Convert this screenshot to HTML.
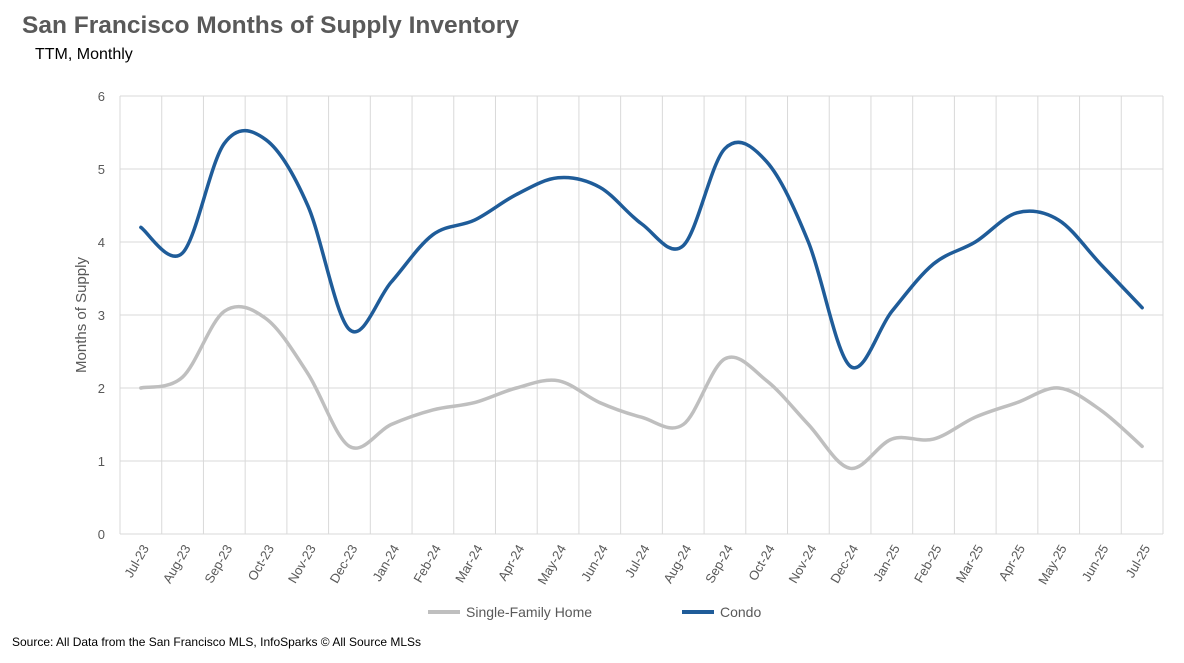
<!DOCTYPE html>
<html><head><meta charset="utf-8"><style>
body{margin:0;background:#fff;font-family:"Liberation Sans",sans-serif;}
svg text{font-family:"Liberation Sans",sans-serif;}
</style></head><body>
<svg width="1184" height="658">
<text x="22" y="33" font-size="24.5" font-weight="bold" fill="#595959">San Francisco Months of Supply Inventory</text>
<text x="35" y="59" font-size="16" fill="#000">TTM, Monthly</text>
<g id="grid"></g>
<g id="axes"></g>
<text transform="translate(86,315) rotate(-90)" text-anchor="middle" font-size="15" fill="#595959">Months of Supply</text>
<g id="series"></g>
<g>
<line x1="428" y1="612" x2="460" y2="612" stroke="#bfbfbf" stroke-width="4"/>
<text x="466" y="617" font-size="14" fill="#595959">Single-Family Home</text>
<line x1="682" y1="612" x2="714" y2="612" stroke="#1f5c99" stroke-width="4"/>
<text x="720" y="617" font-size="14" fill="#595959">Condo</text>
</g>
<text x="12" y="646" font-size="12" fill="#000">Source: All Data from the San Francisco MLS, InfoSparks © All Source MLSs</text>
</svg>
<script>
const categories=["Jul-23","Aug-23","Sep-23","Oct-23","Nov-23","Dec-23","Jan-24","Feb-24","Mar-24","Apr-24","May-24","Jun-24","Jul-24","Aug-24","Sep-24","Oct-24","Nov-24","Dec-24","Jan-25","Feb-25","Mar-25","Apr-25","May-25","Jun-25","Jul-25"];
const condoValues=[4.2,3.85,5.35,5.4,4.5,2.8,3.45,4.1,4.3,4.65,4.88,4.75,4.25,3.95,5.28,5.1,4.0,2.3,3.05,3.7,4.0,4.4,4.3,3.7,3.1];
const sfhValues=[2.0,2.15,3.05,2.95,2.2,1.2,1.5,1.7,1.8,2.0,2.1,1.8,1.6,1.5,2.4,2.1,1.5,0.9,1.3,1.3,1.6,1.8,2.0,1.7,1.2];
const yTicks=[0,1,2,3,4,5,6];
const NS="http://www.w3.org/2000/svg";
const L=120,R=1163,T=96,B=534,yMax=6;
const step=(R-L)/categories.length;
const xS=i=>L+step*(i+0.5);
const yS=v=>B-(v/yMax)*(B-T);
const grid=document.getElementById('grid'),axes=document.getElementById('axes'),series=document.getElementById('series');
function mk(tag,attrs,parent){const e=document.createElementNS(NS,tag);for(const k in attrs)e.setAttribute(k,attrs[k]);parent.appendChild(e);return e;}
yTicks.forEach(t=>{
 const l=mk('line',{x1:L,x2:R,y1:yS(t),y2:yS(t),stroke:'#d9d9d9','stroke-width':1},grid);
 
 
 const tx=mk('text',{x:L-15,y:yS(t)+5,'text-anchor':'end','font-size':13,fill:'#595959'},axes);
 tx.textContent=t;
 
 
});
for(let i=0;i<=categories.length;i++){
 const l=mk('line',{x1:L+step*i,x2:L+step*i,y1:T,y2:B,stroke:'#d9d9d9','stroke-width':1},grid);
 
 
}
categories.forEach((c,i)=>{
 const x=xS(i),y=B+12;
 const tx=mk('text',{x:x+5,y:y+4,'text-anchor':'end','font-size':13,fill:'#595959',transform:`rotate(-60 ${x+5} ${y})`},axes);
 tx.textContent=c;
 
 
});
function smooth(vals){
 const p=vals.map((v,i)=>[xS(i),yS(v)]);
 let d=`M${p[0][0]},${p[0][1]}`;
 for(let i=0;i<p.length-1;i++){
  const p0=p[i-1]||p[i],p1=p[i],p2=p[i+1],p3=p[i+2]||p2;
  const c1=[p1[0]+(p2[0]-p0[0])/6,p1[1]+(p2[1]-p0[1])/6];
  const c2=[p2[0]-(p3[0]-p1[0])/6,p2[1]-(p3[1]-p1[1])/6];
  d+=` C${c1[0]},${c1[1]} ${c2[0]},${c2[1]} ${p2[0]},${p2[1]}`;
 }
 return d;
}
const s1=mk('path',{d:smooth(sfhValues),fill:'none',stroke:'#bfbfbf','stroke-width':3.5,'stroke-linecap':'round'},series);


const s2=mk('path',{d:smooth(condoValues),fill:'none',stroke:'#1f5c99','stroke-width':3.5,'stroke-linecap':'round'},series);


</script>
</body></html>
